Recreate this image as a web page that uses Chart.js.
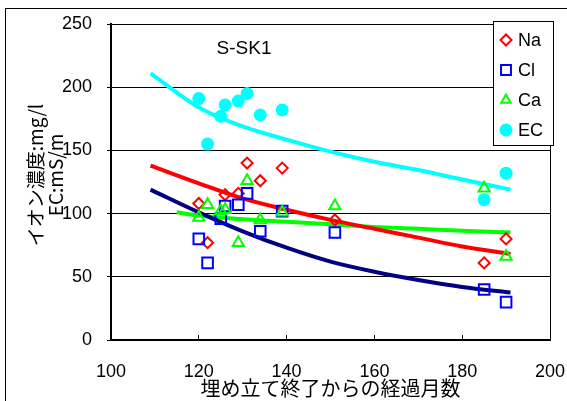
<!DOCTYPE html>
<html>
<head>
<meta charset="utf-8">
<script src="https://cdn.jsdelivr.net/npm/chart.js@4/dist/chart.umd.min.js"></script>
<style>
  body { margin: 0; background: #fff; overflow: hidden; }
  #wrap { position: relative; width: 567px; height: 401px; }
  #frame { position: absolute; left: 5px; top: 8px; width: 600px; height: 420px; border-left: 1px solid #000; border-top: 1px solid #000; }
</style>
</head>
<body>
<div id="wrap">
  <div id="frame"></div>
  <canvas id="chart" width="567" height="401"></canvas>
</div>
<script>
// measured points (months after landfill closure)
var naMonths = [120, 122, 126, 129, 131, 134, 139, 151, 185, 190]
var naValues = [108, 77, 115, 116, 140, 126, 136, 95, 61, 80]

var clMonths = [120, 122, 125, 126, 129, 131, 134, 139, 151, 185, 190]
var clValues = [80, 61, 96, 106, 107, 116, 86, 102, 85, 40, 30]

var caMonths = [120, 122, 125, 126, 129, 131, 134, 139, 151, 185, 190]
var caValues = [97, 107, 102, 103, 77, 126, 95, 101, 106, 120, 66]

var ecMonths = [120, 122, 125, 126, 129, 131, 134, 139, 185, 190]
var ecValues = [191, 155, 177, 186, 189, 195, 178, 182, 111, 132]

// trend curves
var trendMonths = [109, 120, 130, 140, 150, 160, 170, 180, 191]
var naTrend = [138, 124, 112, 103, 95, 88, 81, 74, 68]
var clTrend = [119, 101, 86, 73, 62, 54, 47.5, 42, 37.5]
var ecTrend = [211, 184, 169, 158.5, 149, 141, 134.5, 127, 119]
var caTrendMonths = [115, 120, 130, 140, 150, 160, 170, 180, 191]
var caTrend = [101, 98.5, 95.5, 93.5, 91.5, 89.5, 88, 86.5, 85]

var seriesNames = ['Na', 'Cl', 'Ca', 'EC']
var chartTitle = 'S-SK1'
var xTitle = '埋め立て終了からの経過月数'
var yTitleLines = ['イオン濃度:mg/l', 'EC:mS/m']

function pointsFrom(xs, ys) {
  return xs.map(function (x, i) { return { x: x, y: ys[i] } })
}

var jpFont = '"Noto Sans CJK JP", "Liberation Sans", sans-serif'
var numFont = '"Liberation Sans", Arial, sans-serif'

function markerSet(label, xs, ys, style, color, radius, filled, order) {
  return {
    label: label,
    data: pointsFrom(xs, ys),
    pointStyle: style,
    pointRadius: radius,
    pointHoverRadius: radius,
    borderColor: color,
    backgroundColor: filled ? color : 'rgba(0,0,0,0)',
    pointBorderWidth: filled ? 0 : 2,
    showLine: false,
    order: order
  }
}

function trendSet(xs, ys, color) {
  return {
    label: '',
    trend: true,
    data: pointsFrom(xs, ys),
    showLine: true,
    pointRadius: 0,
    borderColor: color,
    borderWidth: 4,
    cubicInterpolationMode: 'monotone',
    order: 10
  }
}

var extras = {
  id: 'extras',
  afterDraw: function (chart) {
    var ctx = chart.ctx
    ctx.save()
    // chart title inside plot
    ctx.fillStyle = '#000'
    ctx.font = '19px ' + numFont
    ctx.textAlign = 'center'
    ctx.textBaseline = 'middle'
    ctx.fillText(chartTitle, 244, 49)

    // y title, two rotated lines
    ctx.save()
    ctx.translate(36, 175)
    ctx.rotate(-Math.PI / 2)
    ctx.font = '19px ' + jpFont
    ctx.fillText(yTitleLines[0], 0, 0)
    ctx.fillText(yTitleLines[1], 0, 20)
    ctx.restore()

    // legend box
    ctx.fillStyle = '#fff'
    ctx.fillRect(493, 21, 60, 124)
    ctx.strokeStyle = '#000'
    ctx.lineWidth = 1
    ctx.strokeRect(493.5, 21.5, 60, 124)
    var rows = chart.data.datasets.filter(function (d) { return !d.trend })
    rows.forEach(function (d, i) {
      var y = 40 + i * 30
      ctx.strokeStyle = d.borderColor
      ctx.fillStyle = d.backgroundColor
      ctx.lineWidth = d.pointBorderWidth
      Chart.helpers.drawPoint(ctx, {
        pointStyle: d.pointStyle,
        radius: d.pointStyle === 'rect' ? 7 : (d.pointStyle === 'circle' ? 6.5 : 5.5),
        borderWidth: d.pointBorderWidth,
        rotation: 0
      }, 506, y)
      ctx.fillStyle = '#000'
      ctx.font = '18px ' + numFont
      ctx.textAlign = 'left'
      ctx.textBaseline = 'middle'
      ctx.fillText(d.label, 518, y + 1)
    })
    ctx.restore()
  }
}

new Chart(document.getElementById('chart').getContext('2d'), {
  type: 'scatter',
  data: {
    datasets: [
      markerSet(seriesNames[0], naMonths, naValues, 'rectRot', '#ff0000', 5.5, false, 4),
      markerSet(seriesNames[1], clMonths, clValues, 'rect', '#0000ff', 7.5, false, 3),
      markerSet(seriesNames[2], caMonths, caValues, 'triangle', '#00ff00', 6.5, false, 2),
      markerSet(seriesNames[3], ecMonths, ecValues, 'circle', '#00ffff', 6.5, true, 1),
      trendSet(trendMonths, ecTrend, '#00ffff'),
      trendSet(trendMonths, naTrend, '#ff0000'),
      trendSet(trendMonths, clTrend, '#000080'),
      trendSet(caTrendMonths, caTrend, '#00ff00')
    ]
  },
  options: {
    responsive: false,
    animation: false,
    layout: { padding: { top: 24, right: 17, left: 0, bottom: 0 } },
    plugins: { legend: { display: false }, tooltip: { enabled: false } },
    scales: {
      x: {
        type: 'linear',
        min: 100,
        max: 200,
        afterFit: function (s) { s.height = 61; s.paddingLeft = 0; s.paddingRight = 0 },
        ticks: { stepSize: 20, color: '#000', padding: 26, font: { family: numFont, size: 18 } },
        grid: {
          color: function (c) { return c.tick && c.tick.value === 200 ? '#000' : 'rgba(0,0,0,0)' },
          tickColor: '#000',
          tickLength: -5,
          lineWidth: 1
        },
        border: { color: '#000', width: 2 },
        title: { display: true, text: xTitle, color: '#000', padding: { top: 0, bottom: 1 }, font: { family: jpFont, size: 20 } }
      },
      y: {
        min: 0,
        max: 250,
        afterFit: function (s) { s.width = 111; s.paddingTop = 0; s.paddingBottom = 0 },
        ticks: { stepSize: 50, color: '#000', padding: 15, font: { family: numFont, size: 18 } },
        grid: { color: '#000', tickColor: '#000', tickLength: 4, lineWidth: 1 },
        border: { color: '#000', width: 2 }
      }
    }
  },
  plugins: [extras]
})
</script>
</body>
</html>
